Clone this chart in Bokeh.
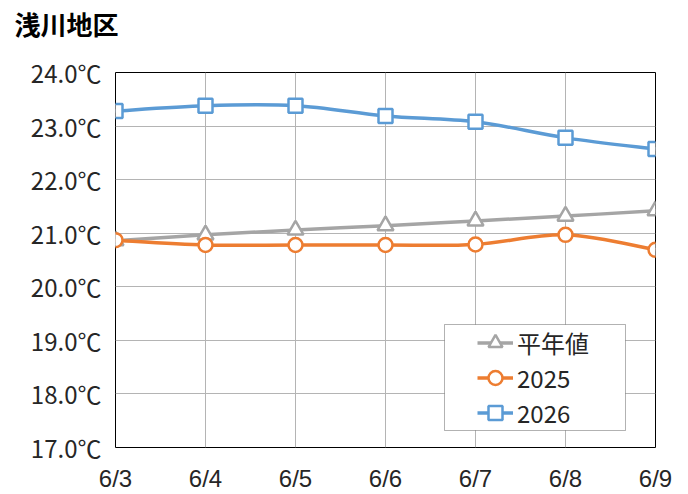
import numpy as np
from bokeh.plotting import figure
from bokeh.models import (ColumnDataSource, FixedTicker, Legend, LegendItem,
                          BoxAnnotation, Title, Range1d, LinearAxis)
from bokeh.embed import file_html
from bokeh.resources import INLINE

# ---- data ----
days = ["6/3", "6/4", "6/5", "6/6", "6/7", "6/8", "6/9"]
normal = [20.86, 20.97, 21.06, 21.14, 21.23, 21.32, 21.42]
y2025 = [20.87, 20.78, 20.78, 20.78, 20.79, 20.97, 20.69]
y2026 = [23.28, 23.38, 23.38, 23.19, 23.08, 22.78, 22.57]
series_names = ["平年値", "2025", "2026"]
y_ticks = [17, 18, 19, 20, 21, 22, 23, 24]
y_tick_labels = ["17.0℃", "18.0℃", "19.0℃", "20.0℃", "21.0℃", "22.0℃", "23.0℃", "24.0℃"]
title_text = "浅川地区"

FONT = "'Liberation Sans', 'Noto Sans CJK JP', sans-serif"
CJK = "'Noto Sans CJK JP', sans-serif"

xs = list(range(len(days)))

p = figure(width=680, height=494, output_backend="svg", toolbar_location=None,
           x_range=Range1d(0, len(days) - 1), y_range=Range1d(17, 24),
           min_border_left=115, min_border_right=25, min_border_top=72,
           min_border_bottom=38)
p.background_fill_color = "white"
p.border_fill_color = "white"
p.outline_line_color = "black"
p.outline_line_width = 1

bottom_axis = p.below[0]
left_axis = p.left[0]

# spacer axis above the frame (no visible ticks/labels) so the title sits near the top
spacer = LinearAxis(ticker=FixedTicker(ticks=[0]), axis_line_color=None,
                    major_tick_in=0, major_tick_out=25, minor_tick_out=0,
                    major_tick_line_color=None, minor_tick_line_color=None,
                    major_label_overrides={0: ""}, major_label_standoff=0,
                    major_label_text_font_size="1px")
p.add_layout(spacer, "above")
p.add_layout(Title(text=title_text, align="left", offset=-101, standoff=8,
                   vertical_align="top",
                   text_font=CJK, text_font_size="26px", text_font_style="bold",
                   text_color="black"), "above")

bottom_axis.ticker = FixedTicker(ticks=xs)
bottom_axis.major_label_overrides = {i: d for i, d in enumerate(days)}
left_axis.ticker = FixedTicker(ticks=y_ticks)
left_axis.major_label_overrides = {t: l for t, l in zip(y_ticks, y_tick_labels)}
for ax in (bottom_axis, left_axis):
    ax.axis_line_color = None
    ax.major_tick_line_color = None
    ax.minor_tick_line_color = None
    ax.major_tick_in = 0
    ax.major_tick_out = 0
    ax.minor_tick_out = 0
    ax.major_label_text_font_size = "24px"
    ax.major_label_text_color = "#262626"
bottom_axis.major_label_text_font = FONT
left_axis.major_label_text_font = CJK
bottom_axis.major_label_standoff = 17
left_axis.major_label_standoff = 14

p.xgrid.ticker = FixedTicker(ticks=xs)
p.ygrid.ticker = FixedTicker(ticks=y_ticks)
p.xgrid.grid_line_color = "#B4B4B4"
p.ygrid.grid_line_color = "#B4B4B4"
p.xgrid.grid_line_width = 1
p.ygrid.grid_line_width = 1


def smooth_segments(xv, yv):
    x = np.asarray(xv, float)
    y = np.asarray(yv, float)
    n = len(x)
    d = dict(x0=[], y0=[], x1=[], y1=[], cx0=[], cy0=[], cx1=[], cy1=[])
    for i in range(n - 1):
        i0 = max(i - 1, 0)
        i3 = min(i + 2, n - 1)
        d["x0"].append(x[i]); d["y0"].append(y[i])
        d["x1"].append(x[i + 1]); d["y1"].append(y[i + 1])
        d["cx0"].append(x[i] + (x[i + 1] - x[i0]) / 6)
        d["cy0"].append(y[i] + (y[i + 1] - y[i0]) / 6)
        d["cx1"].append(x[i + 1] - (x[i3] - x[i]) / 6)
        d["cy1"].append(y[i + 1] - (y[i3] - y[i]) / 6)
    return ColumnDataSource(d)


styles = [
    (normal, "#A5A5A5", "triangle", 16),
    (y2025, "#ED7D31", "circle", 14),
    (y2026, "#5B9BD5", "square", 14),
]

items = []
for name, (vals, color, marker, size) in zip(series_names, styles):
    bz = p.bezier(x0="x0", y0="y0", x1="x1", y1="y1", cx0="cx0", cy0="cy0",
                  cx1="cx1", cy1="cy1", source=smooth_segments(xs, vals),
                  line_color=color, line_width=3.5)
    sc = p.scatter(x=xs, y=vals, marker=marker, size=size, fill_color="white",
                   line_color=color, line_width=2.5)
    items.append(LegendItem(label=name, renderers=[bz, sc]))

box = BoxAnnotation(left=329, right=510, bottom=17, top=123,
                    left_units="screen", right_units="screen",
                    bottom_units="screen", top_units="screen",
                    fill_color="white", fill_alpha=1.0,
                    line_color="black", line_width=1)
p.add_layout(box)

legend = Legend(items=items, location=(362, 17), padding=0, spacing=0,
                glyph_width=36, glyph_height=35, label_height=35,
                label_standoff=4, border_line_color=None,
                background_fill_alpha=0, label_text_font=CJK,
                label_text_font_size="24px", label_text_color="#262626")
p.add_layout(legend, "center")

open("out.html", "w").write(file_html(p, INLINE))
